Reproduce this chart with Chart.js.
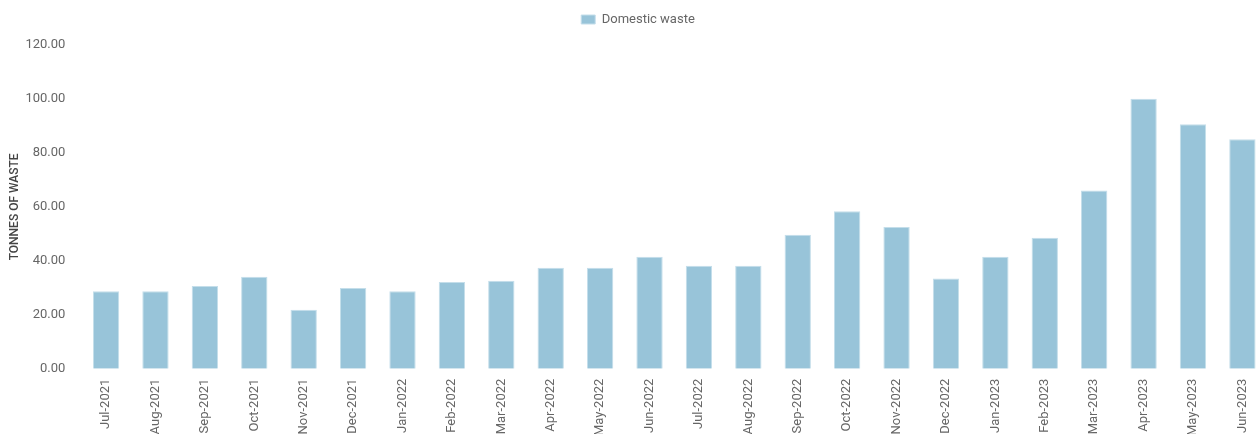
<!DOCTYPE html>
<html>
<head>
<meta charset="utf-8">
<script src="https://cdn.jsdelivr.net/npm/chart.js@4/dist/chart.umd.min.js"></script>
<style>
  html, body { margin: 0; padding: 0; background: #fff; overflow: hidden; }
  #wrap { position: relative; width: 1268px; height: 434px; }
</style>
</head>
<body>
<div id="wrap"><canvas id="c"></canvas></div>
<script>
// Monthly domestic waste collected, in tonnes
const months = [
  'Jul-2021', 'Aug-2021', 'Sep-2021', 'Oct-2021', 'Nov-2021', 'Dec-2021',
  'Jan-2022', 'Feb-2022', 'Mar-2022', 'Apr-2022', 'May-2022', 'Jun-2022',
  'Jul-2022', 'Aug-2022', 'Sep-2022', 'Oct-2022', 'Nov-2022', 'Dec-2022',
  'Jan-2023', 'Feb-2023', 'Mar-2023', 'Apr-2023', 'May-2023', 'Jun-2023'
];
const domesticWaste = [
  28.7, 28.7, 30.7, 34.1, 21.9, 29.9,
  28.7, 32.1, 32.6, 37.4, 37.4, 41.5,
  38.2, 38.2, 49.7, 58.4, 52.5, 33.4,
  41.5, 48.5, 66.1, 100.1, 90.6, 85.1
];
const yTicks = [0, 20, 40, 60, 80, 100, 120];

const font = { family: 'Roboto, "Noto Sans", sans-serif', size: 13 };

// Leaves extra room between the legend and the plot
const legendGap = {
  id: 'legendGap',
  beforeInit(chart) {
    const fit = chart.legend.fit;
    chart.legend.fit = function () {
      fit.call(this);
      this.height += 9;
    };
  }
};

new Chart(document.getElementById('c'), {
  type: 'bar',
  data: {
    labels: months,
    datasets: [{
      label: 'Domestic waste',
      data: domesticWaste,
      backgroundColor: '#98c4d9',
      borderColor: '#c4deea',
      borderWidth: 1,
      barPercentage: 0.65,
      categoryPercentage: 0.82
    }]
  },
  plugins: [legendGap],
  options: {
    responsive: true,
    maintainAspectRatio: false,
    animation: false,
    layout: { padding: { left: 8, right: 0, top: 2, bottom: -12 } },
    plugins: {
      legend: {
        position: 'top',
        labels: {
          boxWidth: 14,
          boxHeight: 9,
          color: '#666',
          font: font,
          padding: 11
        }
      },
      tooltip: { enabled: false }
    },
    scales: {
      x: {
        grid: { display: false, drawTicks: false },
        border: { display: false },
        ticks: {
          color: '#666',
          font: font,
          minRotation: 90,
          maxRotation: 90,
          autoSkip: false,
          padding: 10
        }
      },
      y: {
        min: 0,
        max: 120,
        afterBuildTicks: (axis) => { axis.ticks = yTicks.map(v => ({ value: v })); },
        grid: { display: false, drawTicks: false },
        border: { display: false },
        title: {
          display: true,
          text: 'TONNES OF WASTE',
          color: '#444',
          font: { family: font.family, size: 12, weight: '500' },
          padding: { top: 0, bottom: -13 }
        },
        ticks: {
          color: '#666',
          font: font,
          padding: 16,
          callback: (v) => Number(v).toFixed(2)
        }
      }
    }
  }
});
</script>
</body>
</html>
